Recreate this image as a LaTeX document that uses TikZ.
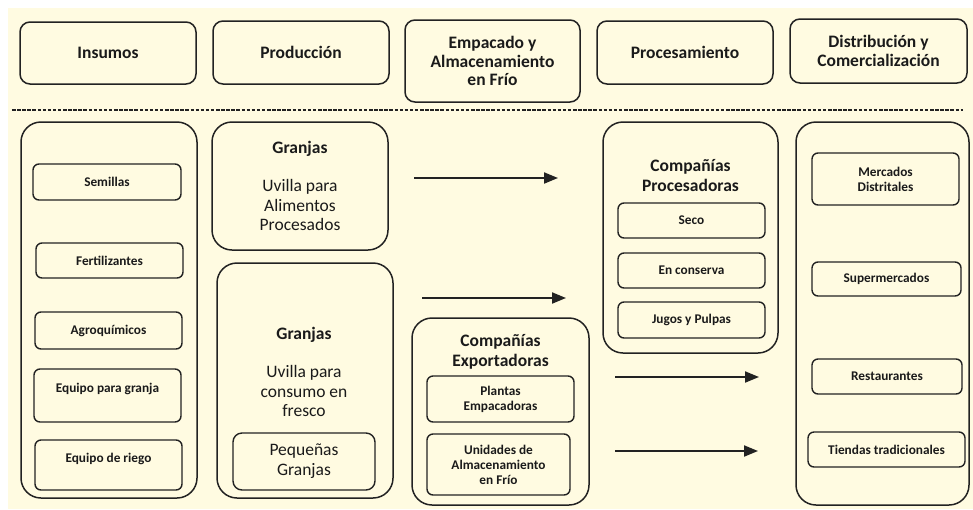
\documentclass[tikz,border=0pt]{standalone}
\usepackage{fontspec}
\setmainfont{Carlito}
\usetikzlibrary{arrows.meta}
\definecolor{cream}{HTML}{FFFBE1}
\definecolor{lc}{HTML}{222222}
\definecolor{tc}{HTML}{1A1A1A}
\newcommand{\mybox}[7]{%
  \node[#6, minimum width={(#4-#2)*1pt}, minimum height={(#5-#3)*1pt}] (#1) at ({(#2+#4)/2},{(#3+#5)/2}) {#7};}
\tikzset{
  hdr/.style={draw=lc, line width=1.5pt, rounded corners=10pt, align=center, text=tc, font=\fontsize{17.5}{18.5}\selectfont\bfseries, inner sep=0pt, outer sep=0pt},
  bigb/.style={draw=lc, line width=1.5pt, rounded corners=20pt, inner sep=0pt, outer sep=0pt},
  smb/.style={draw=lc, line width=1.4pt, rounded corners=6pt, align=center, text=tc, font=\fontsize{13.3}{15}\selectfont\bfseries, inner sep=0pt, outer sep=0pt},
  midb/.style={draw=lc, line width=1.4pt, rounded corners=9pt, align=center, text=tc, font=\fontsize{17.5}{20}\selectfont, inner sep=0pt, outer sep=0pt},
  ttl/.style={align=center, text=tc, font=\fontsize{17.5}{20}\selectfont\bfseries, inner sep=0pt},
  body/.style={align=center, text=tc, font=\fontsize{17.5}{19.5}\selectfont, inner sep=0pt},
  stxt/.style={align=center, text=tc, font=\fontsize{13.3}{15}\selectfont\bfseries, inner sep=0pt},
  arr/.style={draw=lc, line width=2pt, -{Triangle[length=14pt,width=11pt]}},
  dash line/.style={draw=lc, line width=1.3pt, dash pattern=on 3.5pt off 1.6pt}
}
\begin{document}
\begin{tikzpicture}[x=1pt,y=-1pt]
\useasboundingbox (0,0) rectangle (973,509);
\fill[cream] (0,0) rectangle (973,509);
\fill[white] (0,0) rectangle (973,8);
\fill[white] (0,0) rectangle (8,509);

% header row
\mybox{hIns}{20}{22}{196}{84}{hdr}{Insumos}
\mybox{hPro}{213}{21}{389}{84}{hdr}{Producción}
\mybox{hEmp}{405}{20}{580}{102}{hdr}{Empacado y\\Almacenamiento\\en Frío}
\mybox{hPrc}{597}{21}{773}{84}{hdr}{Procesamiento}
\mybox{hDis}{790}{19}{967}{83}{hdr}{Distribución y\\Comercialización}

% dashed separator
\coordinate (dL) at (12,110);
\coordinate (dR) at (963,110);
\draw[dash line] (dL) -- (dR);

% Insumos column
\mybox{bIns}{21}{122}{197}{498}{bigb}{}
\mybox{sSem}{33}{164}{181}{200}{smb}{Semillas}
\mybox{sFer}{36}{243}{183}{278}{smb}{Fertilizantes}
\mybox{sAgr}{35}{312}{182}{349}{smb}{Agroquímicos}
\mybox{sEqg}{34}{369}{181}{422}{smb}{}
\node[stxt] (tEqg) at (107.5,389) {Equipo para granja};
\mybox{sEqr}{35}{440}{182}{490}{smb}{}
\node[stxt] (tEqr) at (108.5,459) {Equipo de riego};

% Produccion column
\mybox{bG1}{212}{122}{388}{250}{bigb}{}
\node[ttl] (tG1) at (300,149) {Granjas};
\node[body] (tG1b) at (300,205) {Uvilla para\\Alimentos\\Procesados};
\mybox{bG2}{217}{263}{393}{498}{bigb}{}
\node[ttl] (tG2) at (304,335) {Granjas};
\node[body] (tG2b) at (304,391) {Uvilla para\\consumo en\\fresco};
\mybox{sPeq}{233}{433}{375}{490}{midb}{Pequeñas\\Granjas}

% Exportadoras
\mybox{bExp}{412}{318}{589}{505}{bigb}{}
\node[ttl] (tExp) at (500.5,352) {Compañías\\Exportadoras};
\mybox{sPla}{427}{376}{574}{422}{smb}{Plantas\\Empacadoras}
\mybox{sUni}{427}{434}{570}{495}{smb}{Unidades de\\Almacenamiento\\en Frío}

% Procesadoras
\mybox{bPrc}{603}{122}{778}{353}{bigb}{}
\node[ttl] (tPrc) at (690.5,176) {Compañías\\Procesadoras};
\mybox{sSec}{618}{203}{765}{238}{smb}{Seco}
\mybox{sCon}{618}{253}{765}{288}{smb}{En conserva}
\mybox{sJug}{618}{302}{765}{338}{smb}{Jugos y Pulpas}

% Distribucion
\mybox{bDis}{796}{122}{969}{505}{bigb}{}
\mybox{sMer}{812}{153}{959}{205}{smb}{Mercados\\Distritales}
\mybox{sSup}{812}{262}{961}{296}{smb}{Supermercados}
\mybox{sRes}{812}{359}{962}{394}{smb}{Restaurantes}
\mybox{sTie}{808}{432}{965}{467}{smb}{Tiendas tradicionales}

% arrows
\coordinate (a1s) at (414,178); \coordinate (a1e) at (558,178);
\coordinate (a2s) at (422,298); \coordinate (a2e) at (566,298);
\coordinate (a3s) at (615,377); \coordinate (a3e) at (759,377);
\coordinate (a4s) at (615,451); \coordinate (a4e) at (758,451);
\draw[arr] (a1s) -- (a1e);
\draw[arr] (a2s) -- (a2e);
\draw[arr] (a3s) -- (a3e);
\draw[arr] (a4s) -- (a4e);
\end{tikzpicture}
\end{document}
